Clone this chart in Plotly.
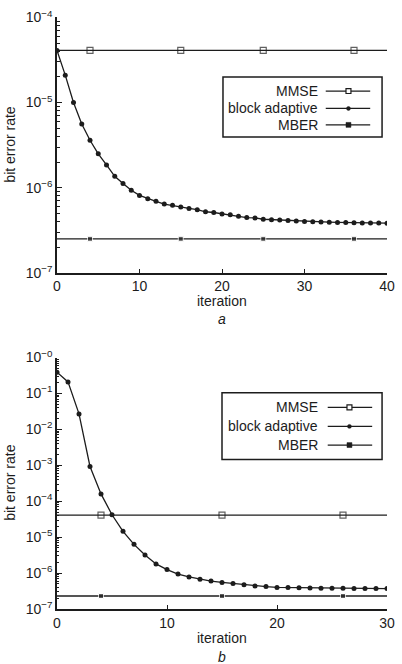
import plotly.graph_objects as go

# ---------------- data ----------------
iter_a = list(range(41))
block_a = [4.1e-5, 2.1e-5, 1.0e-5, 5.6e-6, 3.6e-6, 2.5e-6, 1.85e-6, 1.36e-6, 1.12e-6, 9.3e-7,
           8.1e-7, 7.4e-7, 6.9e-7, 6.4e-7, 6.2e-7, 5.9e-7, 5.7e-7, 5.5e-7, 5.2e-7, 5.1e-7,
           4.9e-7, 4.8e-7, 4.6e-7, 4.45e-7, 4.4e-7, 4.25e-7, 4.2e-7, 4.15e-7, 4.1e-7, 4.05e-7,
           4.0e-7, 3.98e-7, 3.95e-7, 3.92e-7, 3.9e-7, 3.88e-7, 3.86e-7, 3.85e-7, 3.84e-7, 3.83e-7,
           3.82e-7]
mmse_a_x = [0, 4, 15, 25, 36, 40]
mmse_a = [4.1e-5] * 6
mber_a_x = [0, 4, 15, 25, 36, 40]
mber_a = [2.5e-7] * 6

iter_b = list(range(31))
block_b = [0.39, 0.21, 0.027, 9.3e-4, 1.6e-4, 4.2e-5, 1.45e-5, 6.3e-6, 3.2e-6, 1.8e-6,
           1.25e-6, 9.4e-7, 7.8e-7, 6.7e-7, 6.0e-7, 5.5e-7, 5.1e-7, 4.7e-7, 4.4e-7, 4.2e-7,
           4.0e-7, 3.95e-7, 3.9e-7, 3.85e-7, 3.8e-7, 3.78e-7, 3.76e-7, 3.74e-7, 3.72e-7, 3.7e-7,
           3.7e-7]
mmse_b_x = [0, 4, 15, 26, 30]
mmse_b = [4.1e-5] * 5
mber_b_x = [0, 4, 15, 26, 30]
mber_b = [2.3e-7] * 5

ytick_a = [1e-7, 1e-6, 1e-5, 1e-4]
ytext_a = ["10<sup>−7</sup>", "10<sup>−6</sup>", "10<sup>−5</sup>", "10<sup>−4</sup>"]
ytick_b = [1e-7, 1e-6, 1e-5, 1e-4, 1e-3, 1e-2, 1e-1, 1e0]
ytext_b = ["10<sup>−7</sup>", "10<sup>−6</sup>", "10<sup>−5</sup>", "10<sup>−4</sup>",
           "10<sup>−3</sup>", "10<sup>−2</sup>", "10<sup>−1</sup>", "10<sup>−0</sup>"]
legend_names = ["MMSE", "block adaptive", "MBER"]

# ---------------- style ----------------
INK = "#1c1c1c"
FONT = "Liberation Sans, Arial, sans-serif"
W, H = 402, 664
ML, MR, MT, MB = 57, 11, 7, 55
PW, PH = W - ML - MR, H - MT - MB


def px(x):
    return (x - ML) / PW


def py(y):
    return (H - MB - y) / PH


def size_arr(n, s):
    return [0] + [s] * (n - 2) + [0]


def minor_vals(e0, e1):
    return [k * 10.0 ** e for e in range(e0, e1) for k in range(2, 10)]


fig = go.Figure()

for xa, ya, bx, by, mx, my, ex, ey in [
    ("x", "y", iter_a, block_a, mmse_a_x, mmse_a, mber_a_x, mber_a),
    ("x2", "y2", iter_b, block_b, mmse_b_x, mmse_b, mber_b_x, mber_b),
]:
    fig.add_trace(go.Scatter(x=mx, y=my, xaxis=xa, yaxis=ya, mode="lines+markers",
                             line=dict(color=INK, width=1.3),
                             marker=dict(symbol="square-open", size=size_arr(len(mx), 6),
                                         color=INK, line=dict(color=INK, width=1.2)),
                             showlegend=False, name="MMSE"))
    fig.add_trace(go.Scatter(x=bx, y=by, xaxis=xa, yaxis=ya, mode="lines+markers",
                             line=dict(color=INK, width=1.3),
                             marker=dict(symbol="circle", size=5, color=INK),
                             showlegend=False, name="block adaptive"))
    fig.add_trace(go.Scatter(x=ex, y=ey, xaxis=xa, yaxis=ya, mode="lines+markers",
                             line=dict(color=INK, width=1.3),
                             marker=dict(symbol="square", size=size_arr(len(ex), 5), color=INK),
                             showlegend=False, name="MBER"))

# domains
top_dom = [py(267), py(7.5)]
bot_dom = [py(609), py(353.3)]

axis_common = dict(showline=True, linecolor=INK, linewidth=1.5, ticks="inside",
                   tickcolor=INK, tickfont=dict(family=FONT, size=14, color=INK),
                   showgrid=False, zeroline=False, mirror=False)

fig.update_layout(
    width=W, height=H, paper_bgcolor="white", plot_bgcolor="white",
    margin=dict(l=ML, r=MR, t=MT, b=MB),
    showlegend=False,
    font=dict(family=FONT, size=14, color=INK),
    xaxis=dict(domain=[0, 1], anchor="y", range=[0, 40], tickvals=[0, 10, 20, 30, 40],
               ticklen=4, **axis_common),
    yaxis=dict(domain=top_dom, anchor="x", type="log", range=[-7, -4], tickmode="array",
               tickvals=ytick_a, ticktext=ytext_a, ticklen=5,
               minor=dict(ticks="inside", ticklen=3, tickmode="array",
                          tickvals=minor_vals(-7, -4), tickcolor=INK, tickwidth=1),
               **axis_common),
    xaxis2=dict(domain=[0, 1], anchor="y2", range=[0, 30], tickvals=[0, 10, 20, 30],
                ticklen=4, **axis_common),
    yaxis2=dict(domain=bot_dom, anchor="x2", type="log", range=[-7, 0], tickmode="array",
                tickvals=ytick_b, ticktext=ytext_b, ticklen=5,
                minor=dict(ticks="inside", ticklen=2, tickmode="array",
                           tickvals=minor_vals(-7, 0), tickcolor=INK, tickwidth=1),
                **axis_common),
)

ann = []
shapes = []
# axis titles and captions
for ymid, yit, ycap, cap in [((7.5 + 267) / 2, 296, 314, "a"), ((353.3 + 609) / 2, 638.5, 657.5, "b")]:
    ann.append(dict(xref="paper", yref="paper", x=px(10), y=py(ymid), text="bit error rate",
                    textangle=-90, showarrow=False, font=dict(size=14, family=FONT, color=INK),
                    xanchor="center", yanchor="middle"))
    ann.append(dict(xref="paper", yref="paper", x=px((57 + 391) / 2), y=py(yit), text="iteration",
                    showarrow=False, font=dict(size=14, family=FONT, color=INK),
                    xanchor="center", yanchor="middle"))
    ann.append(dict(xref="paper", yref="paper", x=px((57 + 391) / 2), y=py(ycap), text="<i>" + cap + "</i>",
                    showarrow=False, font=dict(size=14, family=FONT, color=INK),
                    xanchor="center", yanchor="middle"))

# custom legends (text left of sample line)
for box, rows, lx0, lx1, mxp in [
    ((225, 68, 386, 129), (82.3, 100, 116.7), 329, 374, 352),
    ((224, 389, 386, 457), (404, 423.3, 442.3), 331, 376, 353),
]:
    shapes.append(dict(type="rect", xref="paper", yref="paper", x0=px(box[0]), x1=px(box[2]),
                       y0=py(box[3]), y1=py(box[1]), line=dict(color=INK, width=1.5),
                       fillcolor="white", layer="above"))
    for i, (name, ry) in enumerate(zip(legend_names, rows)):
        ann.append(dict(xref="paper", yref="paper", x=px(323), y=py(ry), text=name,
                        showarrow=False, xanchor="right", yanchor="middle",
                        font=dict(size=14, family=FONT, color=INK)))
        shapes.append(dict(type="line", xref="paper", yref="paper", x0=px(lx0), x1=px(lx1),
                           y0=py(ry), y1=py(ry), line=dict(color=INK, width=1.3), layer="above"))
        if i == 0:
            shapes.append(dict(type="rect", xref="paper", yref="paper", x0=px(mxp - 2.5), x1=px(mxp + 2.5),
                               y0=py(ry + 2.5), y1=py(ry - 2.5), line=dict(color=INK, width=1.2),
                               fillcolor="white", layer="above"))
        elif i == 1:
            shapes.append(dict(type="circle", xref="paper", yref="paper", x0=px(mxp - 2), x1=px(mxp + 2),
                               y0=py(ry + 2), y1=py(ry - 2), line=dict(color=INK, width=0.5),
                               fillcolor=INK, layer="above"))
        else:
            shapes.append(dict(type="rect", xref="paper", yref="paper", x0=px(mxp - 2.5), x1=px(mxp + 2.5),
                               y0=py(ry + 2.5), y1=py(ry - 2.5), line=dict(color=INK, width=0.5),
                               fillcolor=INK, layer="above"))

fig.update_layout(annotations=ann, shapes=shapes)
fig.write_html("out.html")
